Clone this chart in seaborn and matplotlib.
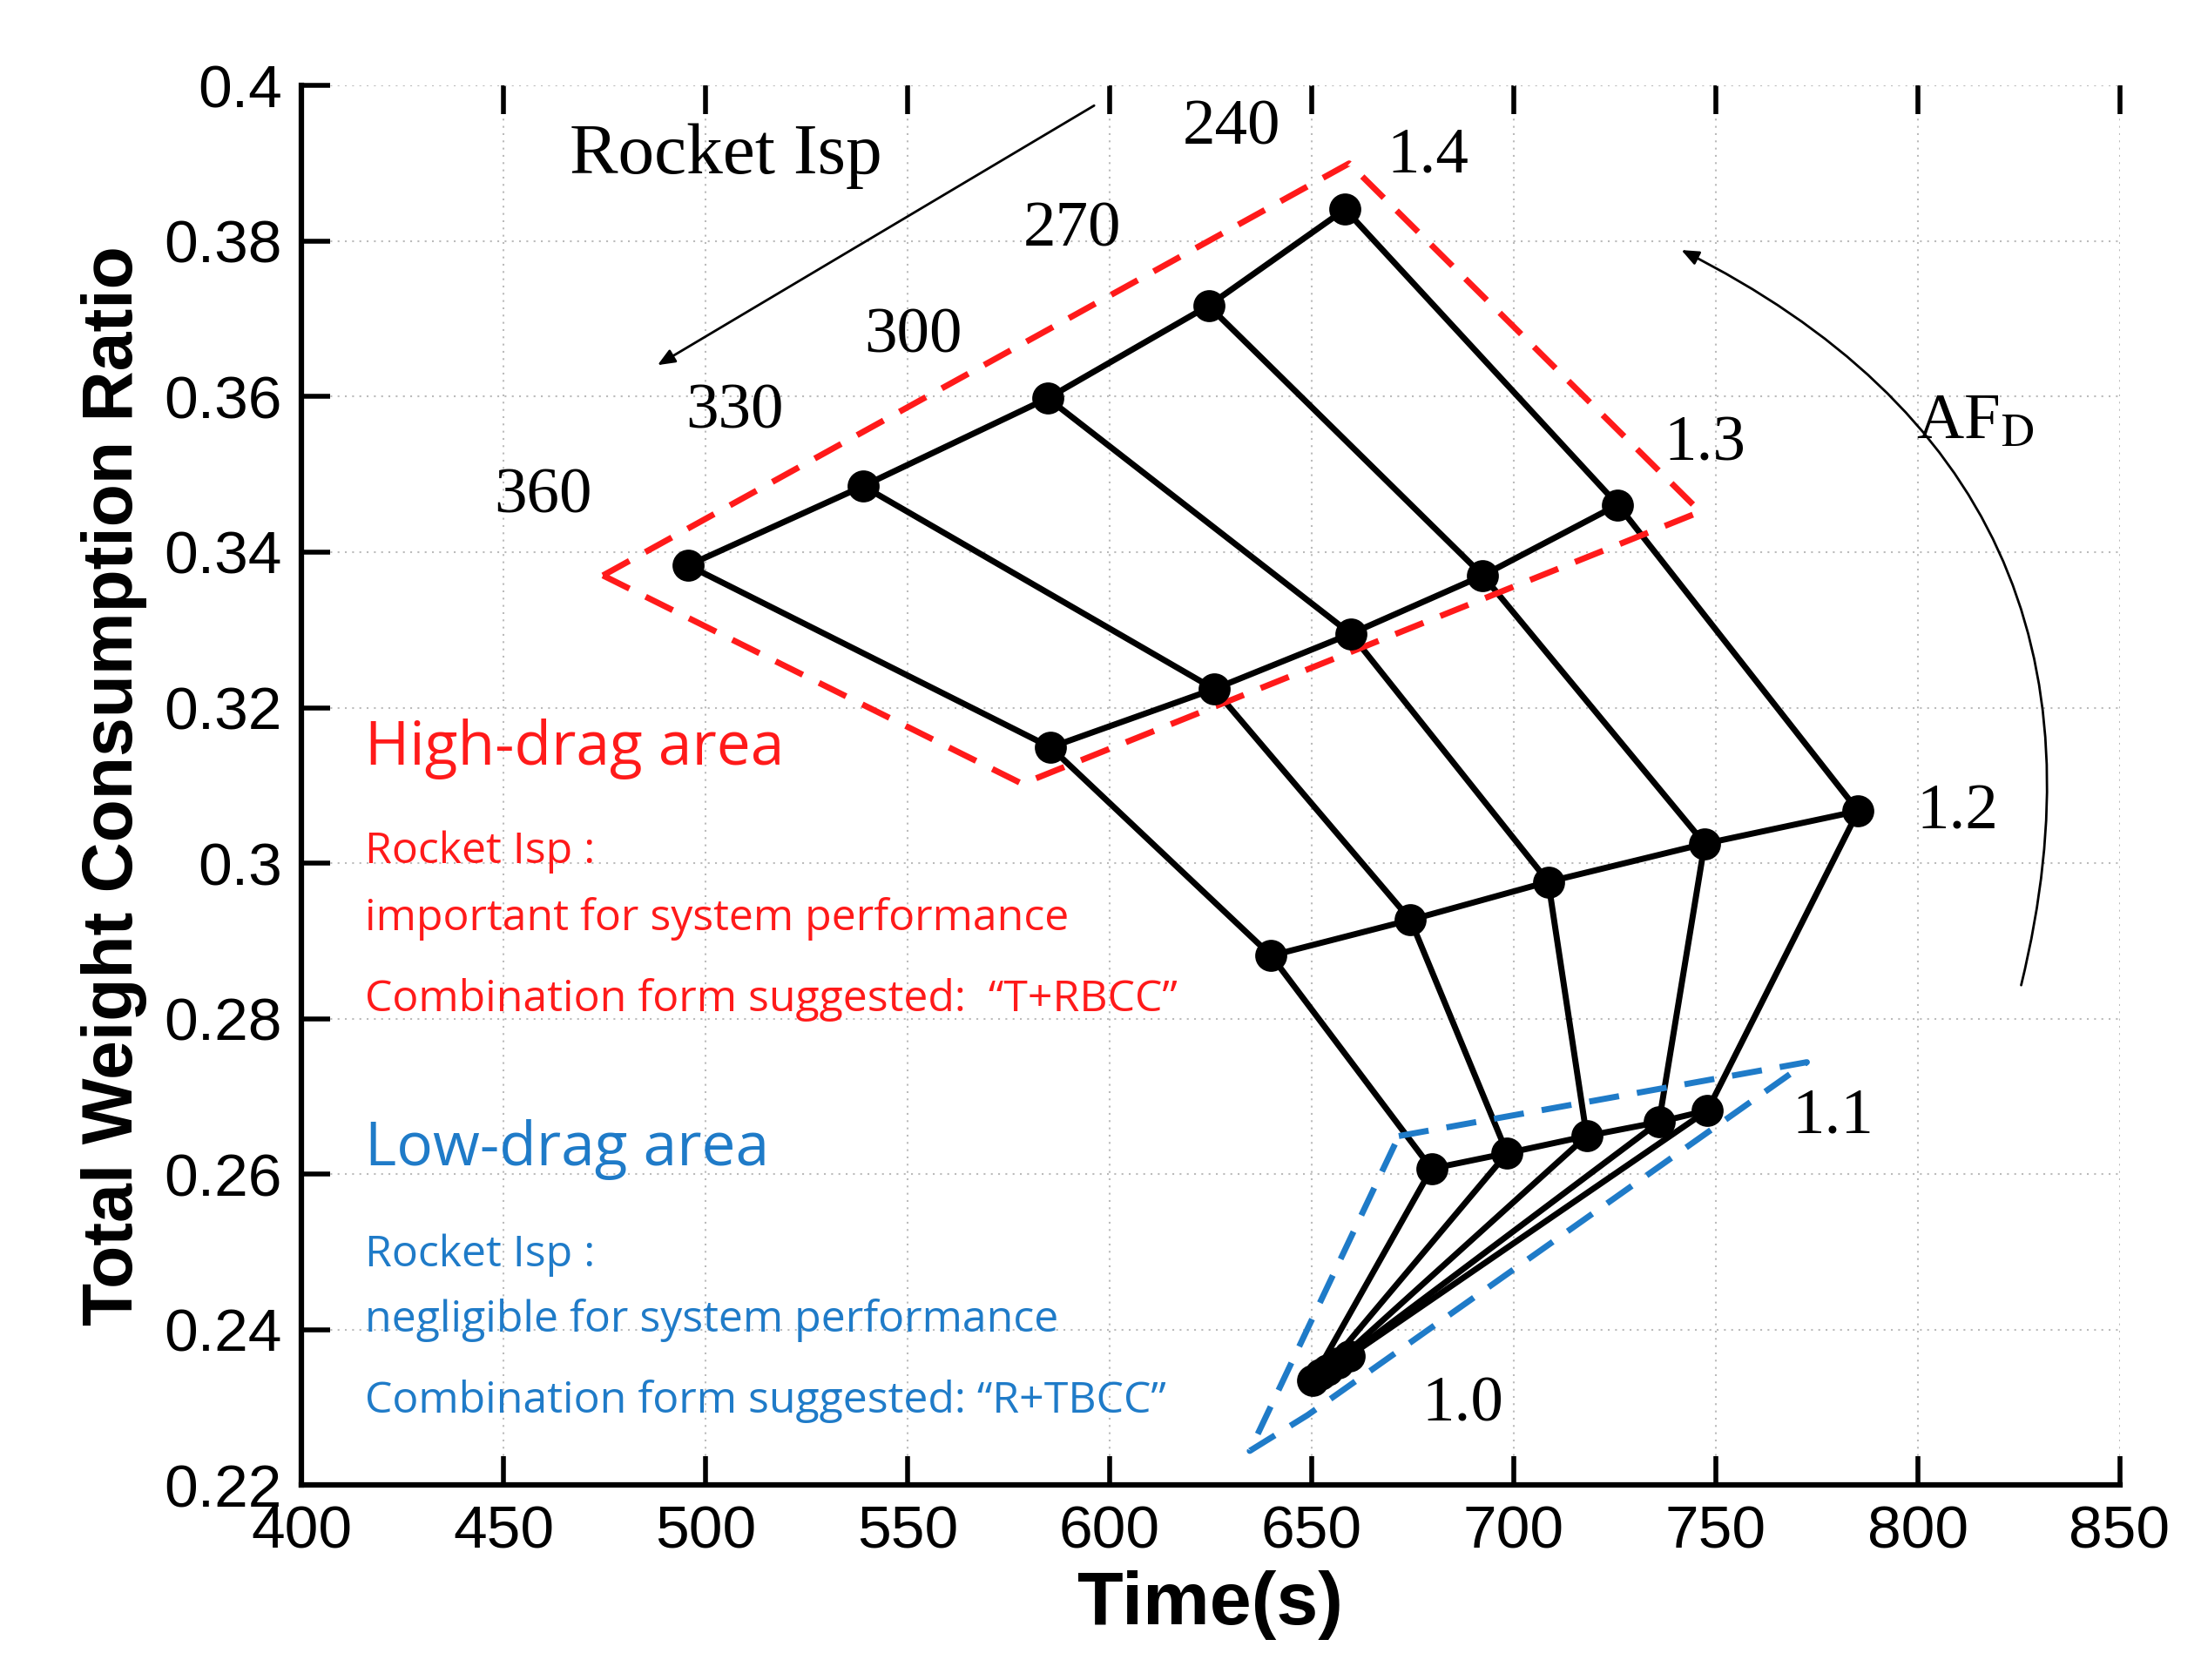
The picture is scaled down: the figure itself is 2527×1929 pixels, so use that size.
import numpy as np
import pandas as pd
import matplotlib
matplotlib.use("Agg")
import matplotlib.pyplot as plt
import seaborn as sns

isp = [240, 270, 300, 330, 360]
af = [1.0, 1.1, 1.2, 1.3, 1.4]
# time[af][isp]
time_s = {
    1.4: [658.3, 624.5, 584.7, 539.0, 495.7],
    1.3: [725.8, 692.4, 659.7, 625.9, 585.4],
    1.2: [785.3, 747.3, 708.6, 674.5, 640.0],
    1.1: [748.0, 736.0, 718.1, 698.4, 679.7],
    1.0: [659.3, 656.5, 654.0, 652.3, 650.2],
}
ratio = {
    1.4: [0.3841, 0.3717, 0.3598, 0.3485, 0.3383],
    1.3: [0.3461, 0.3370, 0.3295, 0.3224, 0.3149],
    1.2: [0.3067, 0.3025, 0.2976, 0.2927, 0.2881],
    1.1: [0.2682, 0.2667, 0.2649, 0.2627, 0.2607],
    1.0: [0.2366, 0.2357, 0.2348, 0.2342, 0.2335],
}
rows = []
for a in af:
    for i, s in enumerate(isp):
        rows.append(dict(af=a, isp=s, t=time_s[a][i], r=ratio[a][i]))
df = pd.DataFrame(rows)

fig = plt.figure(figsize=(25.27, 19.29), dpi=100)
ax = fig.add_axes([0.137, 0.116, 0.826, 0.833])
ax.set_xlim(400, 850)
ax.set_ylim(0.22, 0.40)
ax.grid(True, color="#bbbbbb", linestyle=(0, (1, 3)), linewidth=1.5)
ax.set_axisbelow(True)

for a in af:
    sns.lineplot(data=df[df.af == a], x="t", y="r", sort=False, estimator=None,
                 color="black", linewidth=5, ax=ax)
for s in isp:
    sns.lineplot(data=df[df.isp == s].sort_values("af"), x="t", y="r", sort=False,
                 estimator=None, color="black", linewidth=5, ax=ax)
sns.scatterplot(data=df, x="t", y="r", color="black", s=600, edgecolor="black", zorder=5, ax=ax)

# dashed regions
red = [(474.6, 0.3370), (659.3, 0.3900), (746.2, 0.3452), (578.4, 0.3102), (474.6, 0.3370)]
ax.plot(*zip(*red), color="#ff1a1a", lw=5, ls=(0, (5, 3)))
blue = [(671.6, 0.2649), (772.6, 0.2744), (649, 0.2290), (634.7, 0.2244), (671.6, 0.2649)]
ax.plot(*zip(*blue), color="#1f7bc8", lw=5, ls=(0, (5, 3)))

ser = "Liberation Serif"
ax.text(505, 0.3909, "Rocket Isp", fontsize=60, family=ser, ha="center", va="center")
for lab, x, y in [("240", 630.1, 0.3945), ("270", 590.7, 0.3814), ("300", 551.3, 0.3677),
                  ("330", 507.3, 0.3580), ("360", 459.8, 0.3471), ("1.4", 678.7, 0.3909),
                  ("1.3", 747.3, 0.3538), ("1.2", 809.9, 0.3064), ("1.1", 779.0, 0.2673),
                  ("1.0", 687.5, 0.2302)]:
    ax.text(x, y, lab, fontsize=54, family=ser, ha="center", va="center")
ax.text(814.2, 0.3566, r"AF$_{\rm D}$", fontsize=54, family=ser, ha="center", va="center",
        math_fontfamily="stix")
ax.annotate("", xy=(487.6, 0.3639), xytext=(596.7, 0.3976),
            arrowprops=dict(arrowstyle="-|>,head_length=1.2,head_width=0.5", lw=2, color="black"))
ax.annotate("", xy=(741, 0.3790), xytext=(825.5, 0.2840),
            arrowprops=dict(arrowstyle="-|>,head_length=1.2,head_width=0.5", lw=2, color="black",
                            connectionstyle="arc3,rad=0.4"))

sans = "Open Sans"
rc, bc = "#ff1a1a", "#1f7bc8"
ax.text(415.8, 0.3147, "High-drag area", fontsize=50, family=sans, color=rc, va="center")
ax.text(415.8, 0.3014, "Rocket Isp :", fontsize=36, family=sans, color=rc, va="center")
ax.text(415.8, 0.2928, "important for system performance", fontsize=36, family=sans, color=rc, va="center")
ax.text(415.8, 0.2824, "Combination form suggested:  \u201cT+RBCC\u201d", fontsize=36, family=sans, color=rc, va="center")
ax.text(415.8, 0.2631, "Low-drag area", fontsize=50, family=sans, color=bc, va="center")
ax.text(415.8, 0.2496, "Rocket Isp :", fontsize=36, family=sans, color=bc, va="center")
ax.text(415.8, 0.2412, "negligible for system performance", fontsize=36, family=sans, color=bc, va="center")
ax.text(415.8, 0.2308, "Combination form suggested: \u201cR+TBCC\u201d", fontsize=36, family=sans, color=bc, va="center")

ax.set_xticks(np.arange(400, 851, 50))
ax.set_yticks(np.arange(0.22, 0.4001, 0.02))
ax.set_yticklabels(["0.22", "0.24", "0.26", "0.28", "0.3", "0.32", "0.34", "0.36", "0.38", "0.4"])
ax.tick_params(which="major", direction="in", length=24, width=4, labelsize=50, pad=16,
               top=True, right=False)
for lab in ax.get_xticklabels() + ax.get_yticklabels():
    lab.set_family("Liberation Sans")
for sp in ax.spines.values():
    sp.set_linewidth(4.5)
ax.spines["top"].set_visible(False)
ax.spines["right"].set_visible(False)
ax.set_xlabel("Time(s)", fontsize=62, fontweight="bold", family="Liberation Sans", labelpad=8)
ax.set_ylabel("Total Weight Consumption Ratio", fontsize=58, fontweight="bold",
              family="Liberation Sans", labelpad=14)
fig.savefig("out.png", dpi=100)
